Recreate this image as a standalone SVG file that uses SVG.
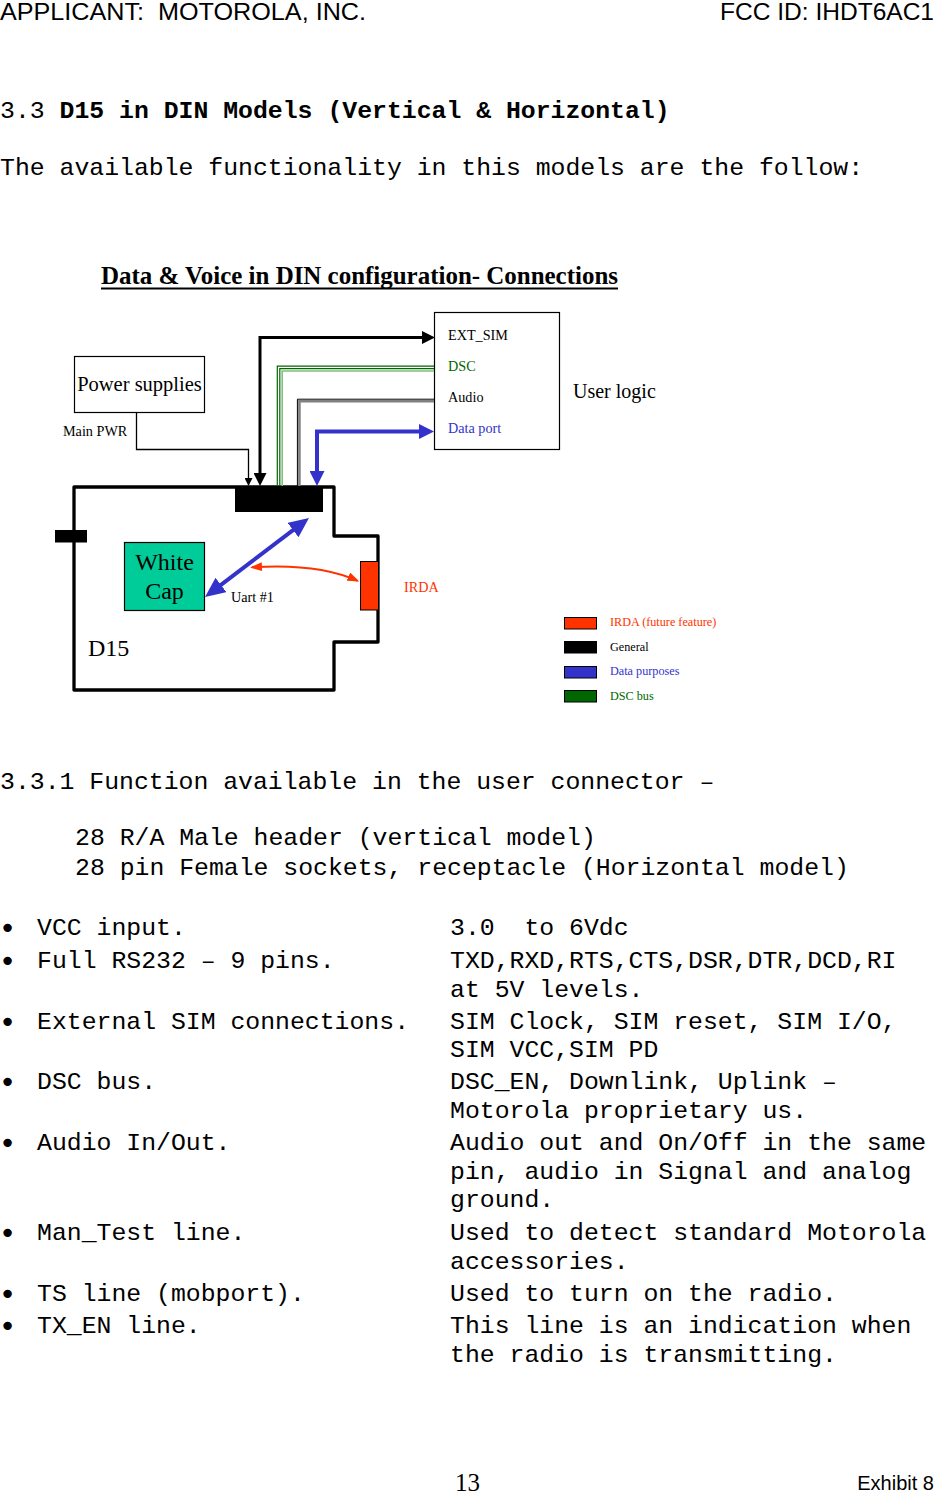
<svg xmlns="http://www.w3.org/2000/svg" width="934" height="1495" viewBox="0 0 934 1495">
<style>
text{white-space:pre}
.mono{font-family:"Liberation Mono","Courier New",monospace;font-size:24.8px;fill:#000}
.sans{font-family:"Liberation Sans",Arial,sans-serif;fill:#000}
.serif{font-family:"Liberation Serif","Times New Roman",serif;fill:#000}
.lbl{font-family:"Liberation Serif","Times New Roman",serif;font-size:14.2px}
.leg{font-family:"Liberation Serif","Times New Roman",serif;font-size:12.2px}
.bul{font-family:"DejaVu Sans",sans-serif;font-size:29px}
</style>
<defs>
<marker id="ak" markerUnits="userSpaceOnUse" viewBox="0 0 13 13" markerWidth="13" markerHeight="13" refX="6" refY="6.5" orient="auto-start-reverse"><path d="M0 0L13 6.5L0 13z" fill="#000"/></marker>
<marker id="at" markerUnits="userSpaceOnUse" viewBox="0 0 8 8" markerWidth="8" markerHeight="8" refX="2" refY="4" orient="auto-start-reverse"><path d="M0 0L8 4L0 8z" fill="#000"/></marker>
<marker id="ab" markerUnits="userSpaceOnUse" viewBox="0 0 15 15" markerWidth="15" markerHeight="15" refX="7" refY="7.5" orient="auto-start-reverse"><path d="M0 0L15 7.5L0 15z" fill="#3333cc"/></marker>
<marker id="ad" markerUnits="userSpaceOnUse" viewBox="0 0 20 18" markerWidth="20" markerHeight="18" refX="12" refY="9" orient="auto-start-reverse"><path d="M0 0L20 9L0 18z" fill="#3333cc"/></marker>
<marker id="ar" markerUnits="userSpaceOnUse" viewBox="0 0 12 9" markerWidth="12" markerHeight="9" refX="10" refY="4.5" orient="auto-start-reverse"><path d="M0 0L12 4.5L0 9z" fill="#ff3300"/></marker>
</defs>
<rect width="934" height="1495" fill="#fff"/>

<g id="page-header">
<text class="sans" x="0" y="20" font-size="24" textLength="366" lengthAdjust="spacingAndGlyphs">APPLICANT:  MOTOROLA, INC.</text>
<text class="sans" x="720" y="20" font-size="24" textLength="214" lengthAdjust="spacingAndGlyphs">FCC ID: IHDT6AC1</text>
</g>

<g id="intro">
<text class="mono" x="0" y="118">3.3 <tspan font-weight="bold">D15 in DIN Models (Vertical &amp; Horizontal)</tspan></text>
<text class="mono" x="0" y="175">The available functionality in this models are the follow:</text>
</g>

<g id="diagram-title">
<text class="serif" x="101" y="284" font-size="25" font-weight="bold" textLength="517" lengthAdjust="spacingAndGlyphs">Data &amp; Voice in DIN configuration- Connections</text>
<rect x="101" y="287.5" width="517" height="2" fill="#000"/>
</g>

<g id="d15">
<path d="M74 487H334V536H378V642H334V690H74Z" fill="none" stroke="#000" stroke-width="3.3" stroke-linejoin="round"/>
<rect x="55" y="530" width="32" height="12.5" fill="#000"/>
<text class="serif" x="88" y="656" font-size="24">D15</text>
</g>

<g id="connector">
<rect x="235" y="486" width="88" height="26" fill="#000"/>
</g>

<g id="power-supplies">
<rect x="74.5" y="356.5" width="130" height="56" fill="#fff" stroke="#000" stroke-width="1.2"/>
<text class="serif" x="139.5" y="391" font-size="20.5" text-anchor="middle">Power supplies</text>
</g>

<g id="user-logic">
<rect x="434.5" y="312.5" width="125" height="137" fill="#fff" stroke="#000" stroke-width="1.2"/>
<text class="lbl" x="448" y="339.5">EXT_SIM</text>
<text class="lbl" x="448" y="371" fill="#006600">DSC</text>
<text class="lbl" x="448" y="401.5">Audio</text>
<text class="lbl" x="448" y="432.5" fill="#3333cc">Data port</text>
<text class="serif" x="573" y="397.5" font-size="20">User logic</text>
</g>

<g id="white-cap">
<rect x="124.5" y="542.5" width="80" height="68" fill="#00cc99" stroke="#000" stroke-width="1.2"/>
<text class="serif" x="164.5" y="569.5" font-size="24" text-anchor="middle">White</text>
<text class="serif" x="164.5" y="599" font-size="24" text-anchor="middle">Cap</text>
</g>

<g id="irda">
<rect x="360.5" y="561.5" width="18" height="48.5" fill="#ff3300" stroke="#000" stroke-width="1"/>
<text class="lbl" x="404" y="591.5" font-size="13.8" fill="#ff3300">IRDA</text>
</g>

<g id="connectors" fill="none">
<path d="M136.5 412V449.5H248.5V480" stroke="#000" stroke-width="1.3" marker-end="url(#at)"/>
<path d="M260 479V337.5H428" stroke="#000" stroke-width="3" marker-start="url(#ak)" marker-end="url(#ak)"/>
<path d="M277.3 486V366.2H434" stroke="#006600" stroke-width="1.2"/>
<path d="M279.8 486V368.7H434" stroke="#006600" stroke-width="1.2"/>
<path d="M282.2 486V371H434" stroke="#7fbf7f" stroke-width="1.6"/>
<path d="M297.4 486V399.2H434" stroke="#000" stroke-width="1"/>
<path d="M299.4 486V401.2H434" stroke="#808080" stroke-width="2.6"/>
<path d="M317 478V431.5H426" stroke="#3333cc" stroke-width="4" marker-start="url(#ab)" marker-end="url(#ab)"/>
<path d="M211.4 592.2L302.6 522.8" stroke="#3333cc" stroke-width="4" marker-start="url(#ad)" marker-end="url(#ad)"/>
<path d="M252 567.3Q318 563 357.5 580.8" stroke="#ff3300" stroke-width="2" marker-start="url(#ar)" marker-end="url(#ar)"/>
<text class="lbl" x="231" y="602.3" font-size="14" fill="#000" stroke="none">Uart #1</text>
<text class="lbl" x="63" y="435.7" font-size="14.4" fill="#000" stroke="none">Main PWR</text>
</g>

<g id="legend">
<rect x="564.5" y="617.5" width="32" height="11.5" fill="#ff3300" stroke="#000" stroke-width="1"/>
<text class="leg" x="610" y="626" fill="#ff3300">IRDA (future feature)</text>
<rect x="564.5" y="641.5" width="32" height="11.5" fill="#000" stroke="#000" stroke-width="1"/>
<text class="leg" x="610" y="650.7">General</text>
<rect x="564.5" y="666.5" width="32" height="11.5" fill="#3333cc" stroke="#000" stroke-width="1"/>
<text class="leg" x="610" y="675.3" fill="#3333cc">Data purposes</text>
<rect x="564.5" y="690.5" width="32" height="11.5" fill="#006600" stroke="#000" stroke-width="1"/>
<text class="leg" x="610" y="700" fill="#006600">DSC bus</text>
</g>

<g id="functions">
<text class="mono" x="0" y="789">3.3.1 Function available in the user connector –</text>
<text class="mono" x="75" y="845">28 R/A Male header (vertical model)</text>
<text class="mono" x="75" y="875">28 pin Female sockets, receptacle (Horizontal model)</text>

<text class="bul" x="-1" y="938">•</text>
<text class="mono" x="37" y="935">VCC input.</text>
<text class="mono" x="450" y="935">3.0  to 6Vdc</text>

<text class="bul" x="-1" y="971">•</text>
<text class="mono" x="37" y="968">Full RS232 – 9 pins.</text>
<text class="mono" x="450" y="968">TXD,RXD,RTS,CTS,DSR,DTR,DCD,RI</text>
<text class="mono" x="450" y="997">at 5V levels.</text>

<text class="bul" x="-1" y="1032">•</text>
<text class="mono" x="37" y="1029">External SIM connections.</text>
<text class="mono" x="450" y="1029">SIM Clock, SIM reset, SIM I/O,</text>
<text class="mono" x="450" y="1057">SIM VCC,SIM PD</text>

<text class="bul" x="-1" y="1092">•</text>
<text class="mono" x="37" y="1089">DSC bus.</text>
<text class="mono" x="450" y="1089">DSC_EN, Downlink, Uplink –</text>
<text class="mono" x="450" y="1118">Motorola proprietary us.</text>

<text class="bul" x="-1" y="1153">•</text>
<text class="mono" x="37" y="1150">Audio In/Out.</text>
<text class="mono" x="450" y="1150">Audio out and On/Off in the same</text>
<text class="mono" x="450" y="1179">pin, audio in Signal and analog</text>
<text class="mono" x="450" y="1207">ground.</text>

<text class="bul" x="-1" y="1243">•</text>
<text class="mono" x="37" y="1240">Man_Test line.</text>
<text class="mono" x="450" y="1240">Used to detect standard Motorola</text>
<text class="mono" x="450" y="1269">accessories.</text>

<text class="bul" x="-1" y="1304">•</text>
<text class="mono" x="37" y="1301">TS line (mobport).</text>
<text class="mono" x="450" y="1301">Used to turn on the radio.</text>

<text class="bul" x="-1" y="1336">•</text>
<text class="mono" x="37" y="1333">TX_EN line.</text>
<text class="mono" x="450" y="1333">This line is an indication when</text>
<text class="mono" x="450" y="1362">the radio is transmitting.</text>
</g>

<g id="page-footer">
<text class="serif" x="455" y="1491" font-size="25">13</text>
<text class="sans" x="934" y="1490" font-size="20" text-anchor="end">Exhibit 8</text>
</g>
</svg>
